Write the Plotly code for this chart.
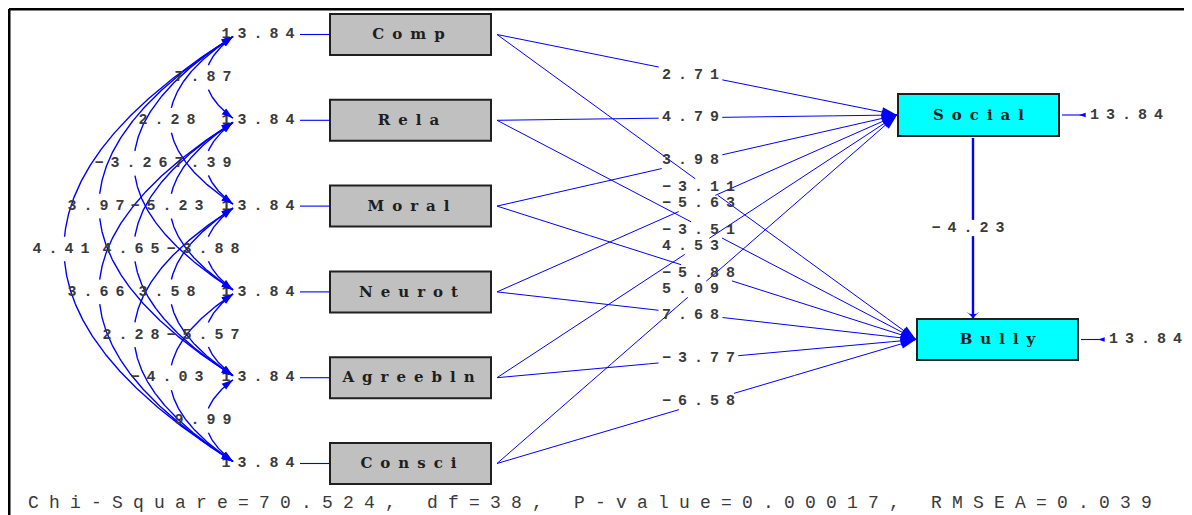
import numpy as np
import plotly.graph_objects as go

# ---------------- data ----------------
predictors = ["Comp", "Rela", "Moral", "Neurot", "Agreebln", "Consci"]
endogenous = ["Social", "Bully"]
predictor_variances = [13.84, 13.84, 13.84, 13.84, 13.84, 13.84]
cov_from = [0, 0, 0, 0, 0, 1, 1, 1, 1, 2, 2, 2, 3, 3, 4]
cov_to = [1, 2, 3, 4, 5, 2, 3, 4, 5, 3, 4, 5, 4, 5, 5]
cov_values = [7.87, 2.28, -3.26, 3.97, 4.41, 7.39, -5.23, 4.65, 3.66,
              -3.88, 3.58, 2.28, -5.57, -4.03, 9.99]
paths_to_social = [2.71, 4.79, 3.98, -5.63, 4.53, 5.09]
paths_to_bully = [-3.11, -3.51, -5.88, 7.68, -3.77, -6.58]
social_to_bully = -4.23
residual_variances = [13.84, 13.84]
chi_square = 70.524
deg_freedom = 38
p_value = 0.00017
rmsea = 0.039

# ---------------- layout / style constants ----------------
W, H = 1192, 515
PAGE_OFF = 8          # browser default body margin
BLUE = "#0000ff"
TXT = "#3a3a3a"
MONO = "Liberation Mono, Courier New, monospace"
SERIF = "DejaVu Serif, Liberation Serif, serif"
NUM_SIZE = 15
NUM_PITCH = 16.0
NUM_LS = NUM_PITCH - 0.6 * NUM_SIZE
LAB_SIZE = 15
LAB_LS = 8.0
CHI_SIZE = 18
CHI_PITCH = 21.0
CHI_LS = CHI_PITCH - 0.6 * CHI_SIZE

PX0, PX1, BOX_H = 330, 491, 41
pred_y = [34.5 + 85.8 * i for i in range(len(predictors))]
endo_box = [(898, 1059, 94, 136), (917, 1078, 319, 360)]
endo_y = [(b[2] + b[3]) / 2 for b in endo_box]
endo_tip_x = [b[0] - 1 for b in endo_box]
PATH_X0 = 497
PATH_LABEL_LEFT = 662
VAR_LABEL_CX = 258
VAR_LINE_X0 = 300
ARC_TIP_X = 233
ARC_LEFT = {1: 206, 2: 170, 3: 134, 4: 99, 5: 64}


def fmt(v):
    return f"{v:.2f}".replace("-", "\u2212")


def spaced(s, ls, bold=False):
    inner = f"<b>{s}</b>" if bold else s
    return f'<span style="letter-spacing:{ls:.2f}px">{inner}</span>'


def num_width(s):
    return len(s) * NUM_PITCH - NUM_LS


def gapped(px, py, box, xs, ys):
    x0, x1, y0, y1 = box
    for x, y in zip(px, py):
        if x0 <= x <= x1 and y0 <= y <= y1:
            xs.append(None)
            ys.append(None)
        else:
            xs.append(float(x))
            ys.append(float(y))
    xs.append(None)
    ys.append(None)


def ang(dx, dy):
    return float(np.degrees(np.arctan2(dx, -dy)))


fig = go.Figure()

# ---------------- covariance arcs ----------------
arc_x, arc_y = [], []
cov_lab_x, cov_lab_y, cov_lab_t = [], [], []
cov_ah_x, cov_ah_y, cov_ah_a = [], [], []
t = np.linspace(0, 1, 400)
for i, j, v in zip(cov_from, cov_to, cov_values):
    ya, yb = pred_y[i] + 2, pred_y[j] - 2
    ym = (pred_y[i] + pred_y[j]) / 2
    L = ARC_LEFT[j - i]
    cx = 2 * L - ARC_TIP_X
    bx = (1 - t) ** 2 * ARC_TIP_X + 2 * t * (1 - t) * cx + t ** 2 * ARC_TIP_X
    by = (1 - t) ** 2 * ya + 2 * t * (1 - t) * ym + t ** 2 * yb
    s = fmt(v)
    lc = L - 3
    w = num_width(s)
    gapped(bx, by, (lc - w / 2 - 3, lc + w / 2 + 3, ym - 12, ym + 12), arc_x, arc_y)
    cov_lab_x.append(lc + NUM_LS / 2)
    cov_lab_y.append(ym)
    cov_lab_t.append(spaced(s, NUM_LS, True))
    cov_ah_x += [ARC_TIP_X, ARC_TIP_X]
    cov_ah_y += [ya, yb]
    cov_ah_a += [ang(ARC_TIP_X - cx, ya - ym), ang(ARC_TIP_X - cx, yb - ym)]

fig.add_trace(go.Scatter(x=arc_x, y=arc_y, mode="lines",
                         line=dict(color=BLUE, width=1.4), hoverinfo="skip"))

# ---------------- structural paths ----------------
pl_x, pl_y = [], []
path_lab_x, path_lab_y, path_lab_t = [], [], []
end_ah_x, end_ah_y, end_ah_a = [], [], []
tt = np.linspace(0, 1, 800)
for k, vals in enumerate([paths_to_social, paths_to_bully]):
    xt, yt = endo_tip_x[k], endo_y[k]
    for i, v in enumerate(vals):
        x0, y0 = PATH_X0, pred_y[i]
        px = x0 + (xt - x0) * tt
        py = y0 + (yt - y0) * tt
        s = fmt(v)
        w = num_width(s)
        yc = (y0 + yt) / 2
        gapped(px, py, (PATH_LABEL_LEFT - 3, PATH_LABEL_LEFT + w + 3, yc - 8, yc + 8), pl_x, pl_y)
        path_lab_x.append(PATH_LABEL_LEFT + w / 2 + NUM_LS / 2)
        path_lab_y.append(yc)
        path_lab_t.append(spaced(s, NUM_LS, True))
        end_ah_x.append(xt)
        end_ah_y.append(yt)
        end_ah_a.append(ang(xt - x0, yt - y0))

# Social -> Bully
bx0 = (endo_box[0][0] + endo_box[0][1]) / 2 - 5.5
by0, by1 = endo_box[0][3] + 2, endo_box[1][2] - 1
vy = np.linspace(by0, by1, 300)
beta_s = fmt(social_to_bully)
beta_yc = (by0 + by1) / 2
bl_x, bl_y = [], []
gapped(np.full_like(vy, bx0), vy, (bx0 - 60, bx0 + 60, beta_yc - 8, beta_yc + 8), bl_x, bl_y)

fig.add_trace(go.Scatter(x=pl_x, y=pl_y, mode="lines",
                         line=dict(color=BLUE, width=1.0), hoverinfo="skip"))
fig.add_trace(go.Scatter(x=bl_x, y=bl_y, mode="lines",
                         line=dict(color=BLUE, width=2.4), hoverinfo="skip"))

# variance connector lines and residual lines
conn_x, conn_y = [], []
for y in pred_y:
    conn_x += [VAR_LINE_X0, PX0, None]
    conn_y += [y, y, None]
res_lab_left = []
for b, yy in zip(endo_box, endo_y):
    conn_x += [b[1] + 3, b[1] + 26, None]
    conn_y += [yy, yy, None]
    res_lab_left.append(b[1] + 31)
fig.add_trace(go.Scatter(x=conn_x, y=conn_y, mode="lines",
                         line=dict(color=BLUE, width=1.1), hoverinfo="skip"))

# ---------------- boxes ----------------
shapes = []
for y in pred_y:
    shapes.append(dict(type="rect", xref="x", yref="y", x0=PX0, x1=PX1,
                       y0=y - BOX_H / 2, y1=y + BOX_H / 2, layer="below",
                       fillcolor="#c0c0c0", line=dict(color="#202020", width=2)))
for b in endo_box:
    shapes.append(dict(type="rect", xref="x", yref="y", x0=b[0], x1=b[1],
                       y0=b[2], y1=b[3], layer="below",
                       fillcolor="#00ffff", line=dict(color="#202020", width=2)))
# frame
shapes.append(dict(type="line", xref="x", yref="y", x0=9, x1=W, y0=9, y1=9,
                   line=dict(color="black", width=3)))
shapes.append(dict(type="line", xref="x", yref="y", x0=9, x1=9, y0=9, y1=H,
                   line=dict(color="black", width=3)))

# ---------------- texts ----------------
numfont = dict(family=MONO, size=NUM_SIZE, color=TXT)
fig.add_trace(go.Scatter(x=cov_lab_x, y=cov_lab_y, text=cov_lab_t, mode="text",
                         textfont=numfont, textposition="middle center", hoverinfo="skip"))
fig.add_trace(go.Scatter(x=path_lab_x, y=path_lab_y, text=path_lab_t, mode="text",
                         textfont=numfont, textposition="middle center", hoverinfo="skip"))
var_t = [spaced(fmt(v), NUM_LS, True) for v in predictor_variances]
fig.add_trace(go.Scatter(x=[VAR_LABEL_CX + NUM_LS / 2] * len(pred_y), y=pred_y, text=var_t,
                         mode="text", textfont=numfont,
                         textposition="middle center", hoverinfo="skip"))
res_t = [spaced(fmt(v), NUM_LS, True) for v in residual_variances]
res_x = [lft + num_width(fmt(v)) / 2 + NUM_LS / 2 for lft, v in zip(res_lab_left, residual_variances)]
fig.add_trace(go.Scatter(x=res_x, y=endo_y, text=res_t, mode="text",
                         textfont=numfont, textposition="middle center", hoverinfo="skip"))
fig.add_trace(go.Scatter(x=[bx0 - 5 + NUM_LS / 2], y=[beta_yc],
                         text=[spaced(beta_s, NUM_LS, True)],
                         mode="text", textfont=numfont,
                         textposition="middle center", hoverinfo="skip"))

# box labels
lab_x = [(PX0 + PX1) / 2 - 2 + LAB_LS / 2] * len(predictors) + \
        [(b[0] + b[1]) / 2 + LAB_LS / 2 for b in endo_box]
lab_y = [y + 1 for y in pred_y + endo_y]
lab_t = [spaced(n, LAB_LS, True) for n in predictors + endogenous]
fig.add_trace(go.Scatter(x=lab_x, y=lab_y, text=lab_t, mode="text",
                         textfont=dict(family=SERIF, size=LAB_SIZE, color="#1e1e1e"),
                         textposition="middle center", hoverinfo="skip"))

# fit statistics
chi_txt = f"Chi-Square={chi_square:.3f}, df={deg_freedom}, P-value={p_value:.5f}, RMSEA={rmsea:.3f}"
fig.add_trace(go.Scatter(x=[28 + len(chi_txt) * CHI_PITCH / 2], y=[503],
                         text=[spaced(chi_txt, CHI_LS)], mode="text",
                         textfont=dict(family=MONO, size=CHI_SIZE, color=TXT),
                         textposition="middle center", hoverinfo="skip"))

# ---------------- arrowheads ----------------
fig.add_trace(go.Scatter(x=cov_ah_x, y=cov_ah_y, mode="markers", hoverinfo="skip",
                         marker=dict(symbol="arrow", size=12, angle=cov_ah_a,
                                     color=BLUE, line=dict(width=0))))
fig.add_trace(go.Scatter(x=end_ah_x, y=end_ah_y, mode="markers", hoverinfo="skip",
                         marker=dict(symbol="arrow", size=16, angle=end_ah_a,
                                     color=BLUE, line=dict(width=0))))
fig.add_trace(go.Scatter(x=[bx0], y=[by1], mode="markers", hoverinfo="skip",
                         marker=dict(symbol="arrow-wide", size=9, angle=180,
                                     color=BLUE, line=dict(width=0))))
fig.add_trace(go.Scatter(x=[b[1] + 20 for b in endo_box], y=endo_y, mode="markers",
                         hoverinfo="skip",
                         marker=dict(symbol="arrow", size=7, angle=270,
                                     color=BLUE, line=dict(width=0))))

fig.update_layout(
    width=W - PAGE_OFF, height=H - PAGE_OFF, margin=dict(l=0, r=0, t=0, b=0),
    paper_bgcolor="white", plot_bgcolor="white", showlegend=False,
    shapes=shapes,
    xaxis=dict(range=[PAGE_OFF, W], visible=False, fixedrange=True),
    yaxis=dict(range=[H, PAGE_OFF], visible=False, fixedrange=True),
)
fig.write_html("out.html")
